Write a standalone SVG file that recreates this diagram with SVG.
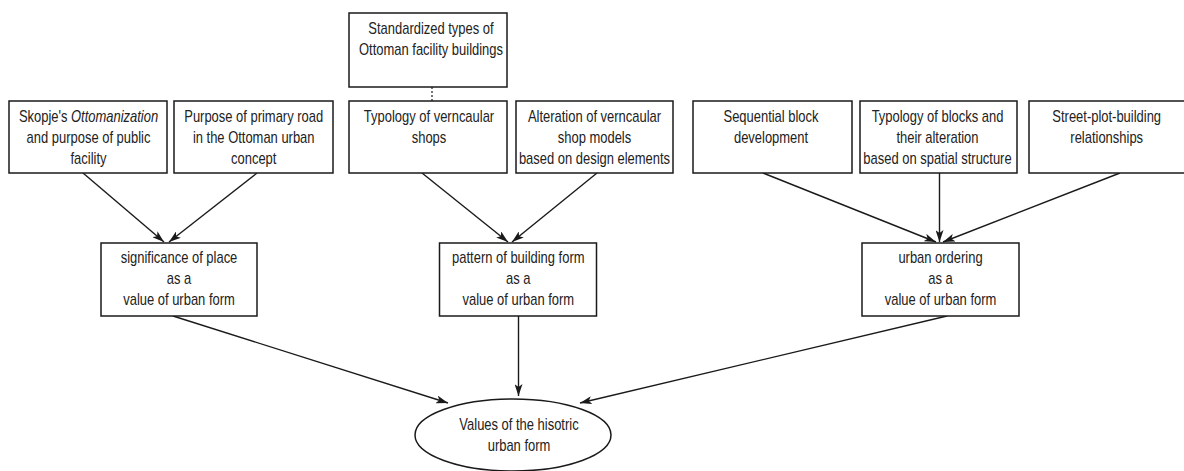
<svg xmlns="http://www.w3.org/2000/svg" width="1184" height="471" viewBox="0 0 1184 471">
<style>
.box{fill:#fff;stroke:#1a1a1a;stroke-width:1.5}
.t{font-family:"Liberation Sans",Arial,sans-serif;font-size:16px;fill:#222;text-anchor:middle}
.c{fill:none;stroke:#1a1a1a;stroke-width:1.4}
.d{fill:none;stroke:#1a1a1a;stroke-width:1.2;stroke-dasharray:2 2}
</style>
<defs>
<marker id="arr" viewBox="0 0 12 8" refX="12" refY="4" markerWidth="12" markerHeight="8" markerUnits="userSpaceOnUse" orient="auto">
<path d="M0,0 L12,4 L0,8 L3,4 Z" fill="#1a1a1a"/>
</marker>
</defs>
<rect width="1184" height="471" fill="#fff"/>
<g id="connectors">
<line class="d" x1="432" y1="87" x2="432" y2="101"/>
<line class="c" x1="83" y1="173" x2="164" y2="242" marker-end="url(#arr)"/>
<line class="c" x1="257" y1="173" x2="169" y2="242" marker-end="url(#arr)"/>
<line class="c" x1="422" y1="173" x2="508" y2="242" marker-end="url(#arr)"/>
<line class="c" x1="597" y1="173" x2="512" y2="242" marker-end="url(#arr)"/>
<line class="c" x1="763" y1="173" x2="936" y2="242" marker-end="url(#arr)"/>
<line class="c" x1="939.5" y1="173" x2="939.5" y2="242" marker-end="url(#arr)"/>
<line class="c" x1="1120" y1="173" x2="943" y2="242" marker-end="url(#arr)"/>
<line class="c" x1="173" y1="316" x2="448" y2="403" marker-end="url(#arr)"/>
<line class="c" x1="518.5" y1="316" x2="518.5" y2="396" marker-end="url(#arr)"/>
<line class="c" x1="947" y1="316" x2="580" y2="403" marker-end="url(#arr)"/>
</g>
<g id="n_std">
<rect class="box" x="349" y="13" width="158" height="74"/>
<g transform="translate(431,0) scale(0.81,1)"><text class="t" x="0" y="34">Standardized types of</text><text class="t" x="0" y="55">Ottoman facility buildings</text></g>
</g>
<g id="n_skopje">
<rect class="box" x="9" y="101" width="158" height="72"/>
<g transform="translate(88.5,0) scale(0.81,1)"><text class="t" x="0" y="122">Skopje's <tspan font-style="italic">Ottomanization</tspan></text><text class="t" x="0" y="143">and purpose of public</text><text class="t" x="0" y="164">facility</text></g>
</g>
<g id="n_road">
<rect class="box" x="174" y="101" width="159" height="72"/>
<g transform="translate(253.7,0) scale(0.81,1)"><text class="t" x="0" y="122">Purpose of primary road</text><text class="t" x="0" y="143">in the Ottoman urban</text><text class="t" x="0" y="164">concept</text></g>
</g>
<g id="n_typshops">
<rect class="box" x="349" y="101" width="158" height="72"/>
<g transform="translate(429,0) scale(0.81,1)"><text class="t" x="0" y="122">Typology of verncaular</text><text class="t" x="0" y="143">shops</text></g>
</g>
<g id="n_altshops">
<rect class="box" x="516" y="101" width="157" height="72"/>
<g transform="translate(594.5,0) scale(0.81,1)"><text class="t" x="0" y="122">Alteration of verncaular</text><text class="t" x="0" y="143">shop models</text><text class="t" x="0" y="164">based on design elements</text></g>
</g>
<g id="n_seq">
<rect class="box" x="693" y="101" width="159" height="72"/>
<g transform="translate(771,0) scale(0.81,1)"><text class="t" x="0" y="122">Sequential block</text><text class="t" x="0" y="143">development</text></g>
</g>
<g id="n_typblocks">
<rect class="box" x="860" y="101" width="157" height="72"/>
<g transform="translate(937.5,0) scale(0.81,1)"><text class="t" x="0" y="122">Typology of blocks and</text><text class="t" x="0" y="143">their alteration</text><text class="t" x="0" y="164">based on spatial structure</text></g>
</g>
<g id="n_street">
<rect class="box" x="1029" y="101" width="158" height="72"/>
<g transform="translate(1106.7,0) scale(0.81,1)"><text class="t" x="0" y="122">Street-plot-building</text><text class="t" x="0" y="143">relationships</text></g>
</g>
<g id="n_place">
<rect class="box" x="101" y="243" width="156" height="73"/>
<g transform="translate(179,0) scale(0.81,1)"><text class="t" x="0" y="263">significance of place</text><text class="t" x="0" y="284">as a</text><text class="t" x="0" y="305">value of urban form</text></g>
</g>
<g id="n_pattern">
<rect class="box" x="439.5" y="243" width="157" height="73"/>
<g transform="translate(518.3,0) scale(0.81,1)"><text class="t" x="0" y="263">pattern of building form</text><text class="t" x="0" y="284">as a</text><text class="t" x="0" y="305">value of urban form</text></g>
</g>
<g id="n_ordering">
<rect class="box" x="862" y="243" width="157" height="73"/>
<g transform="translate(940.5,0) scale(0.81,1)"><text class="t" x="0" y="263">urban ordering</text><text class="t" x="0" y="284">as a</text><text class="t" x="0" y="305">value of urban form</text></g>
</g>
<g id="n_values">
<ellipse class="box" cx="513" cy="435" rx="98" ry="36"/>
<g transform="translate(519,0) scale(0.81,1)"><text class="t" x="0" y="430">Values of the hisotric</text><text class="t" x="0" y="451">urban form</text></g>
</g>
</svg>
